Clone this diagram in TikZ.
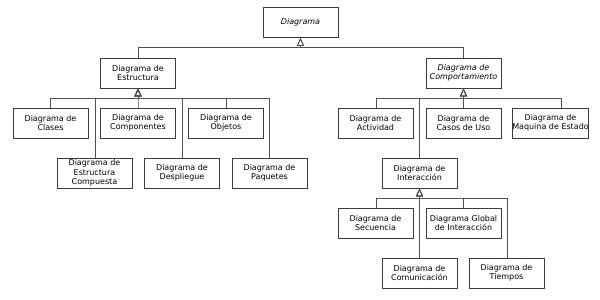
\documentclass[tikz,border=0pt]{standalone}
\usepackage{fontspec}
\setmainfont{DejaVu Sans}
\usepackage{tikz}
\usetikzlibrary{arrows.meta}
\definecolor{BoxLine}{RGB}{60,60,60}
\definecolor{LinkGray}{RGB}{80,80,80}
\tikzset{
  cls/.style={rectangle,draw=BoxLine,fill=white,line width=0.8pt,minimum width=75pt,minimum height=30pt,
    inner sep=0pt,align=center,font=\fontsize{8}{9.5}\selectfont},
  abscls/.style={cls,font=\fontsize{8}{9.5}\selectfont\itshape},
  gen/.style={draw=LinkGray,line width=0.8pt,-{Triangle[open,length=8pt,width=7pt]}},
}

\begin{document}
\begin{tikzpicture}[x=1pt,y=-1pt]
\useasboundingbox (0,0) rectangle (600,300);
\node[abscls] (diag) at (300.5,22.5) {Diagrama};
\node[cls] (estr) at (138,73) {Diagrama de\\Estructura};
\node[abscls] (compor) at (463.5,73) {Diagrama de\\Comportamiento};
\node[cls] (clases) at (50.5,123) {Diagrama de\\Clases};
\node[cls] (compon) at (138,123) {Diagrama de\\Componentes};
\node[cls] (objetos) at (226,123) {Diagrama de\\Objetos};
\node[cls] (estcomp) at (94.5,173) {Diagrama de\\Estructura\\Compuesta};
\node[cls] (despl) at (182,173) {Diagrama de\\Despliegue};
\node[cls] (paquetes) at (269.5,173) {Diagrama de\\Paquetes};
\node[cls] (activ) at (375.5,123) {Diagrama de\\Actividad};
\node[cls] (casos) at (463.5,123) {Diagrama de\\Casos de Uso};
\node[cls] (maquina) at (550.5,123) {Diagrama de\\Maquina de Estado};
\node[cls] (interac) at (419.5,173) {Diagrama de\\Interacción};
\node[cls] (secuen) at (375.5,223) {Diagrama de\\Secuencia};
\node[cls] (global) at (463.5,223) {Diagrama Global\\de Interacción};
\node[cls] (comunic) at (419.5,273) {Diagrama de\\Comunicación};
\node[cls] (tiempos) at (506.5,273) {Diagrama de\\Tiempos};
% herencia
\draw[gen] (estr.north) |- ([yshift=-9.5pt]diag.south) -- (diag.south);
\draw[gen] (compor.north) |- ([yshift=-9.5pt]diag.south) -- (diag.south);
\foreach \c/\cx in {clases/50,compon/138,objetos/226,estcomp/95,despl/182,paquetes/269}
  \draw[gen] (\c.north -| \cx,0) |- ([yshift=-10pt]estr.south) -- (estr.south);
\foreach \c/\cx in {activ/376,casos/463.5,maquina/561,interac/419.5}
  \draw[gen] (\c.north -| \cx,0) |- ([yshift=-10pt]compor.south) -- (compor.south);
\foreach \c/\cx in {secuen/376,global/463.5,comunic/419.5,tiempos/507}
  \draw[gen] (\c.north -| \cx,0) |- ([yshift=-10pt]interac.south) -- (interac.south);
\end{tikzpicture}
\end{document}
